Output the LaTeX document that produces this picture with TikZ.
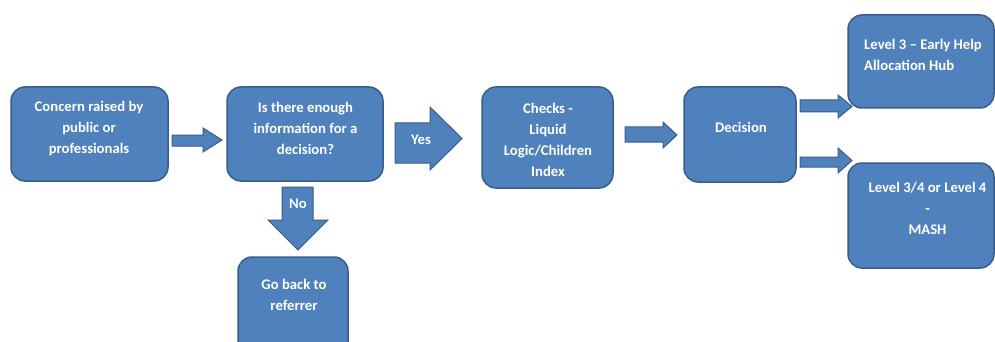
\documentclass[tikz,border=0pt]{standalone}
\usepackage{fontspec}
\setmainfont{Carlito}
\definecolor{boxfill}{HTML}{4F81BD}
\definecolor{boxline}{HTML}{385D8A}
\begin{document}
\begin{tikzpicture}[x=1pt,y=-1pt,
  box/.style={draw=boxline,fill=boxfill,line width=1.5pt,rounded corners=14pt,inner sep=0pt},
  blockarrow/.style={draw=boxline,fill=boxfill,line width=1pt,line join=miter},
  txt/.style={text=white,font=\bfseries\fontsize{14.7}{21}\selectfont,align=center,inner sep=0pt}]
\useasboundingbox (0,0) rectangle (995,342);
\clip (0,0) rectangle (995,342);
% boxes
\node[box,minimum width=157pt,minimum height=94pt] (b1) at (89.5,134) {};
\node[box,minimum width=156pt,minimum height=94pt] (b2) at (305,134) {};
\node[box,minimum width=131pt,minimum height=101pt] (b3) at (547.5,137.5) {};
\node[box,minimum width=112pt,minimum height=95pt] (b4) at (740,134.5) {};
\node[box,minimum width=146pt,minimum height=93pt] (b5) at (921,61.5) {};
\node[box,minimum width=146pt,minimum height=105pt] (b6) at (921,215.5) {};
\node[box,minimum width=110pt,minimum height=110pt] (b7) at (293,312) {};
% texts
\node[txt] (t1) at (89,128) {Concern raised by\\public or\\professionals};
\node[txt] (t2) at (305.5,128) {Is there enough\\information for a\\decision?};
\node[txt] (t3) at (548,139.5) {Checks -\\Liquid\\Logic/Children\\Index};
\node[txt] (t4) at (741,127) {Decision};
\node[txt,align=left,anchor=west] (t5) at (864,55) {Level 3 -- Early Help\\Allocation Hub};
\node[txt] (t6) at (927.5,208) {Level 3/4 or Level 4\\-\\MASH};
\node[txt] (t7) at (294,295) {Go back to\\referrer};
% block arrows
\draw[blockarrow] (172,135) -- (203,135) -- (203,128) -- (222,140) -- (203,152) -- (203,146) -- (172,146) -- cycle;
\draw[blockarrow] (395,123) -- (430,123) -- (430,107) -- (462,138.5) -- (430,170) -- (430,163) -- (395,163) -- cycle;
\node[txt] (yes) at (421,140) {Yes};
\draw[blockarrow] (625,127) -- (663,127) -- (663,122) -- (677,135) -- (663,148) -- (663,142) -- (625,142) -- cycle;
\draw[blockarrow] (800,100) -- (838,100) -- (838,95) -- (852,106.5) -- (838,118) -- (838,112) -- (800,112) -- cycle;
\draw[blockarrow] (800,157) -- (838,157) -- (838,148) -- (852,160.5) -- (838,173) -- (838,167) -- (800,167) -- cycle;
\draw[blockarrow] (282,187) -- (313,187) -- (313,220) -- (328,220) -- (298,250) -- (268,220) -- (282,220) -- cycle;
\node[txt] (no) at (298,204) {No};
\end{tikzpicture}
\end{document}
